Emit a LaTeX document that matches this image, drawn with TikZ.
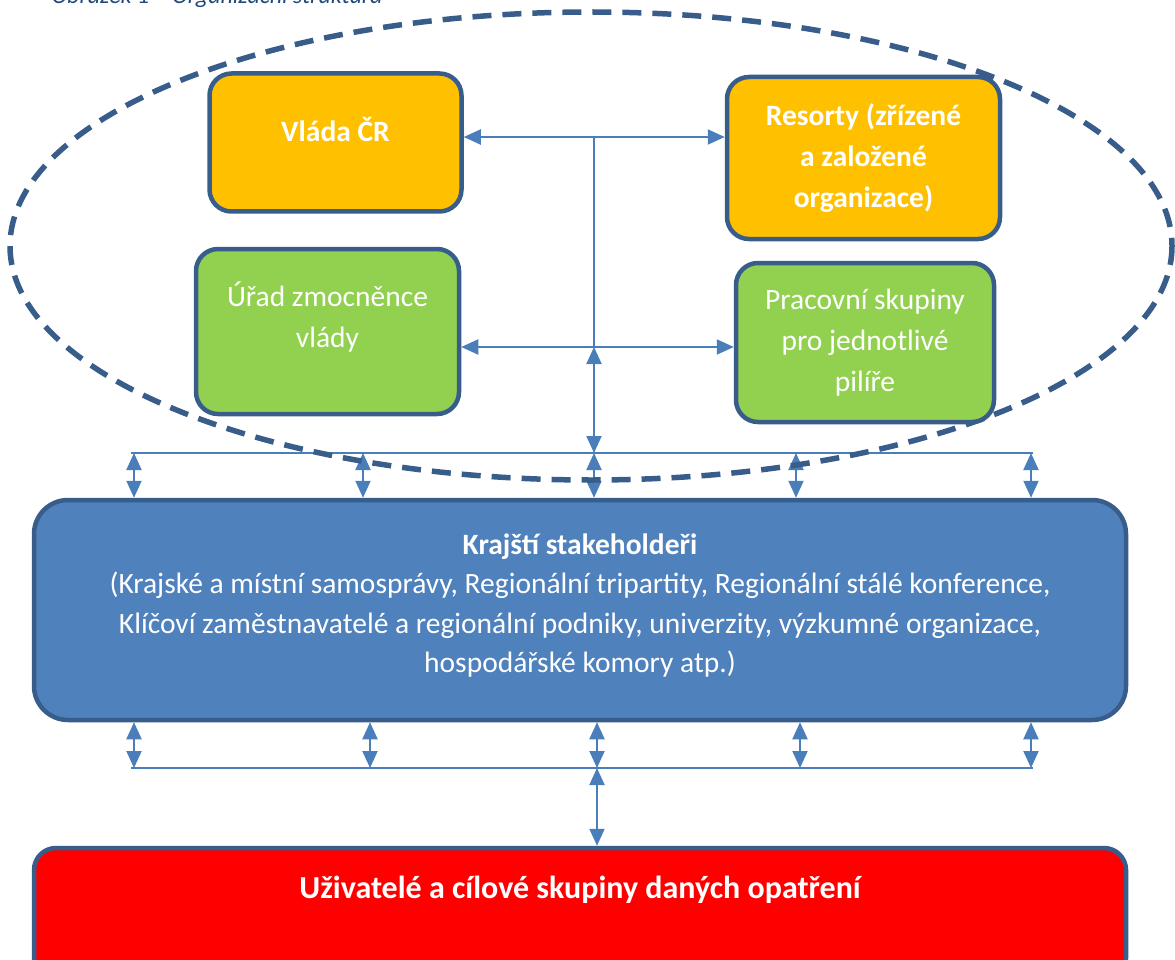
\documentclass[tikz,border=0pt]{standalone}
\usepackage{fontspec}
\setmainfont{Carlito}
\usepackage{xcolor}
\usetikzlibrary{arrows.meta}
\definecolor{boxline}{HTML}{385D8A}
\definecolor{linkblue}{HTML}{4A7EBB}
\definecolor{govorange}{HTML}{FFC000}
\definecolor{workgreen}{HTML}{92D050}
\definecolor{regionblue}{HTML}{4F81BD}
\definecolor{userred}{HTML}{FF0000}
\definecolor{captionblue}{HTML}{1F497D}
\pgfdeclarelayer{background}
\pgfsetlayers{background,main}
\newcommand{\bodyfont}{\fontsize{29.5}{41}\selectfont}

\begin{document}
\begin{tikzpicture}[x=1pt, y=-1pt,
    box/.style={draw=boxline, line width=4.5pt, rounded corners=22pt, text=white,
      align=center, inner sep=0pt, font=\bodyfont},
    boldbox/.style={box, font=\bodyfont\bfseries},
    link/.style={draw=linkblue, line width=2pt},
    both/.style={link, {Triangle[width=15pt,length=17pt]}-{Triangle[width=15pt,length=17pt]}},
    ring/.style={draw=boxline, line width=5.5pt, dash pattern=on 19pt off 11pt}]
    \useasboundingbox (0,0) rectangle (1175,960);
    \node[anchor=base west, text=captionblue, font=\fontsize{24}{28}\selectfont\itshape]
      (caption) at (48,4) {Obrázek 1 -- Organizační struktura};
    % top group
    \node[boldbox, fill=govorange, minimum width=252, minimum height=138, text depth=26pt]
      (vlada) at (335.5,142.5) {Vláda ČR};
    \node[boldbox, fill=govorange, minimum width=273, minimum height=162]
      (resorty) at (863.5,158) {Resorty (zřízené\\a založené\\organizace)};
    \node[box, fill=workgreen, minimum width=263, minimum height=165, text depth=34pt]
      (urad) at (327.5,331.5) {Úřad zmocněnce\\vlády};
    \node[box, fill=workgreen, minimum width=258, minimum height=159]
      (pracovni) at (865,342.5) {Pracovní skupiny\\pro jednotlivé\\pilíře};
    % regions and users
    \node[box, fill=regionblue, minimum width=1092, minimum height=220, rounded corners=34pt,
      text depth=14pt, font=\fontsize{29.5}{39.5}\selectfont]
      (krajsti) at (580,610) {\textbf{Krajští stakeholdeři}\\(Krajské a místní samosprávy, Regionální tripartity, Regionální stálé konference,\\Klíčoví zaměstnavatelé a regionální podniky, univerzity, výzkumné organizace,\\hospodářské komory atp.)};
    \node[boldbox, fill=userred, minimum width=1092, minimum height=132, text depth=54pt,
      font=\fontsize{32}{40}\selectfont\bfseries]
      (users) at (580,914) {Uživatelé a cílové skupiny daných opatření};
    \coordinate (jtop) at (594,137);
    \coordinate (jmid) at (594,347);
    \coordinate (busA) at (131,453);
    \coordinate (busB) at (131,768);
    \begin{pgfonlayer}{background}
      \draw[both] (vlada.east |- jtop) -- (resorty.west |- jtop);
      \draw[link] (jtop) -- (jmid);
      \draw[both] (urad.east |- jmid) -- (pracovni.west |- jmid);
      \draw[both] (jmid) -- (jmid |- busA);
      \draw[link] (busA) -- (1033,453);
      \foreach \x in {134,363,594,796,1031}{
        \draw[both] (busA -| \x,0) -- (krajsti.north -| \x,0);
      }
      \draw[link] (busB) -- (1033,768);
      \foreach \x in {134,370,597,800,1031}{
        \draw[both] (krajsti.south -| \x,0) -- (busB -| \x,0);
      }
      \draw[both] (busB -| users.north) ++(17,0) coordinate (busC) -- (users.north -| busC);
      \draw[ring] (591,246) ellipse [x radius=581, y radius=234];
    \end{pgfonlayer}
\end{tikzpicture}
\end{document}
